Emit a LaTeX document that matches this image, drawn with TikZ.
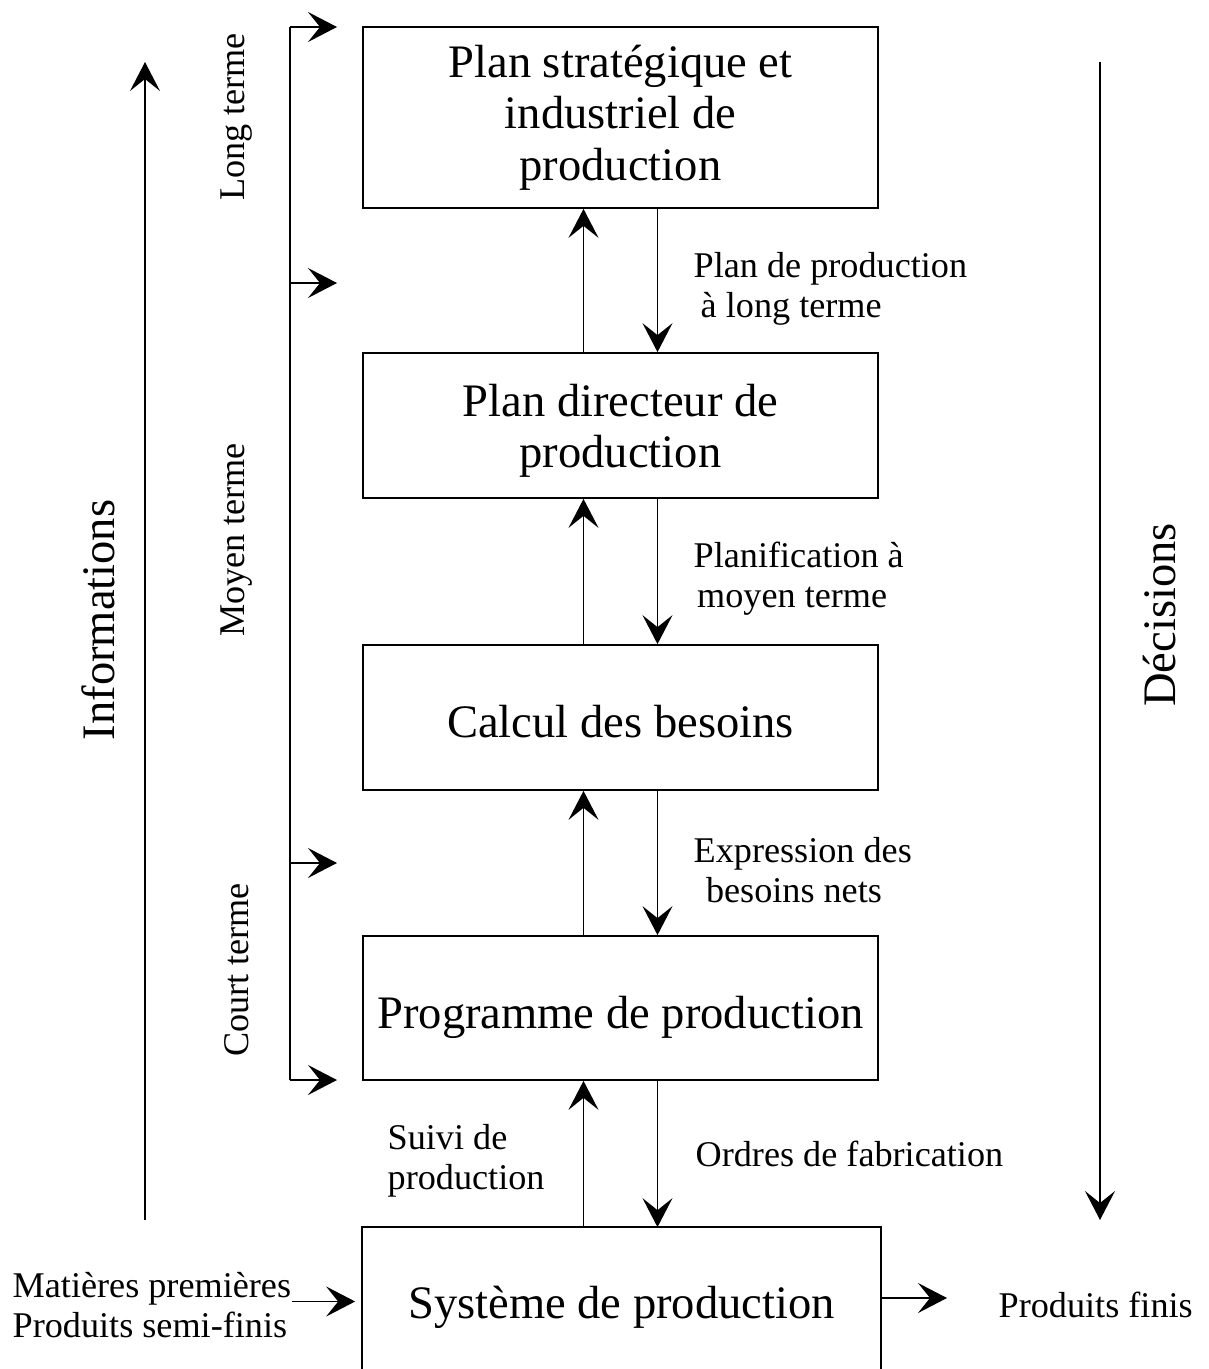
\documentclass[tikz,border=0pt]{standalone}
\usepackage{fontspec}
\setmainfont{Liberation Serif}
\usetikzlibrary{arrows.meta,calc}
\tikzset{
  >={Stealth[length=0.58cm,width=0.6cm,inset=0.24cm]},
  bloc/.style={draw,line width=1pt,minimum width=10.3cm,align=center,
    font=\fontsize{26.5}{29.2}\selectfont,inner sep=0pt},
  uneligne/.style={text height=0.8cm,text depth=0pt},
  lbl/.style={align=left,anchor=west,font=\fontsize{20.6}{22.8}\selectfont,inner sep=0pt},
  horizon/.style={rotate=90,font=\fontsize{20.6}{22.8}\selectfont,inner sep=0pt},
  flux/.style={rotate=90,font=\fontsize{26.5}{28.5}\selectfont,inner sep=0pt},
}

\begin{document}
\begin{tikzpicture}[x=0.02cm,y=-0.02cm,line width=0.8pt] % 1 unit = 1 px of the page
\useasboundingbox (0,0) rectangle (1209,1369);

\def\du{0.74cm} % offset of the up/down arrows from the box centre

% the levels
\node[bloc,minimum height=3.62cm] (strat) at (620.5,117.5) {Plan stratégique et\\industriel de\\production};
\node[bloc,text depth=0pt,minimum height=2.9cm] (pdp) at (620.5,425.5) {Plan directeur de\\production};
\node[bloc,uneligne,minimum height=2.9cm] (cbn) at (620.5,717.5) {Calcul des besoins};
\node[bloc,uneligne,minimum height=2.88cm] (prog) at (620.5,1008) {Programme de production};
\node[bloc,uneligne,draw=none,minimum width=10.34cm,minimum height=2.8cm] (sys) at (621.5,1298) {Système de production};
\draw[line width=1pt] ([yshift=-1cm]sys.south west) |- (sys.north east) -- ([yshift=-1cm]sys.south east);

\foreach \a/\b in {pdp/strat,cbn/pdp,prog/cbn,sys/prog}{
  \draw[->] ([xshift=-\du]\a.north -| \b.south) -- ([xshift=-\du]\b.south);
  \draw[->] ([xshift=\du]\b.south) -- ([xshift=\du]\a.north -| \b.south);
}

\node[lbl] (l1) at (693,289) {Plan de production\\\hspace*{4pt}à long terme};
\node[lbl] (l2) at (693,579) {Planification à\\\hspace*{2pt}moyen terme};
\node[lbl] (l3) at (693,870) {Expression des\\\hspace*{7pt}besoins nets};
\node[lbl] (l4) at (387,1161) {Suivi de\\production};
\node[lbl] (l5) at (695,1154) {Ordres de fabrication};

% entrees / sorties
\node[lbl] (inp) at (12,1305) {Matières premières\\Produits semi-finis};
\node[lbl] (fin) at (998,1305) {Produits finis};
\draw[->,shorten >=4pt] ([yshift=2pt]inp.east) -- ([yshift=2pt]inp.east -| sys.west);
\draw[->,shorten >=1.02cm] (sys.east) -- (sys.east -| fin.west);

% horizons
\coordinate (bt) at (290,27);
\coordinate (bb) at (290,1080);
\draw (bt) -- (bb);
\foreach \y in {27,283,863,1080} \draw[->] (290,\y) -- (337,\y);
\node[horizon] (lt) at (237,117) {Long terme};
\node[horizon] (mt) at (237,540) {Moyen terme};
\node[horizon] (ct) at (237,970) {Court terme};

% flux
\draw[->] (145,1220) -- (145,62);
\node[flux] (info) at (98,620) {Informations};
\draw[->] (1100,62) -- (1100,1220);
\node[flux] (dec) at (1160,615) {Décisions};

\end{tikzpicture}
\end{document}
